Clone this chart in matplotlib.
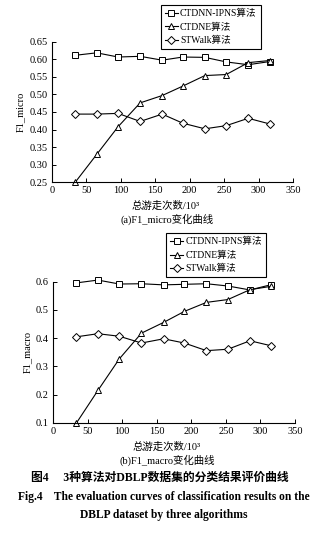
import matplotlib
matplotlib.use('Agg')
from matplotlib import pyplot as plt

# 数据
walks = [34, 65, 96, 128, 160, 190, 222, 253, 285, 316]
labels = ['CTDNN-IPNS算法', 'CTDNE算法', 'STWalk算法']

micro_ipns = [0.612, 0.619, 0.607, 0.609, 0.598, 0.607, 0.606, 0.593, 0.585, 0.594]
micro_ctdne = [0.250, 0.329, 0.408, 0.476, 0.497, 0.524, 0.554, 0.557, 0.591, 0.597]
micro_stwalk = [0.444, 0.444, 0.446, 0.423, 0.444, 0.418, 0.402, 0.411, 0.432, 0.416]

macro_ipns = [0.596, 0.606, 0.592, 0.593, 0.589, 0.591, 0.593, 0.585, 0.571, 0.590]
macro_ctdne = [0.100, 0.215, 0.327, 0.418, 0.456, 0.495, 0.527, 0.537, 0.572, 0.584]
macro_stwalk = [0.405, 0.416, 0.407, 0.383, 0.398, 0.383, 0.356, 0.361, 0.391, 0.373]

plt.rcParams['font.family'] = ['Liberation Serif', 'Noto Sans CJK SC']
plt.rcParams['font.size'] = 7.5

markers = ['s', '^', 'D']
msizes = [4.5, 5, 3.6]

fig = plt.figure(figsize=(3.27, 5.45), dpi=100)


def draw_panel(ax, series, ylim, yticks, yfmt, ylabel, legend_anchor):
    for vals, m, ms, lab in zip(series, markers, msizes, labels):
        ax.plot(walks, vals, color='black', lw=0.8, marker=m, ms=ms,
                mfc='white', mec='black', mew=0.7, label=lab, clip_on=False)
    ax.set_xlim(0, 350)
    ax.set_ylim(*ylim)
    ax.set_xticks(range(0, 351, 50))
    ax.set_yticks(yticks)
    ax.set_yticklabels([yfmt.format(v) for v in yticks])
    ax.spines['top'].set_visible(False)
    ax.spines['right'].set_visible(False)
    ax.spines['left'].set_linewidth(0.8)
    ax.spines['bottom'].set_linewidth(0.8)
    ax.tick_params(direction='in', length=3, width=0.7, labelsize=7.5, pad=3)
    ax.set_ylabel(ylabel, fontsize=7.5, labelpad=3)
    ax.set_xlabel('总游走次数/10³', fontsize=7.5, labelpad=2)
    ax.xaxis.set_label_coords(0.47, -0.13)
    leg = ax.legend(loc='upper left', bbox_to_anchor=legend_anchor,
                    bbox_transform=fig.transFigure, fancybox=False,
                    edgecolor='black', framealpha=1, fontsize=6.9,
                    handlelength=1.4, handletextpad=0.2, borderpad=0.4,
                    labelspacing=0.45, borderaxespad=0)
    leg.get_frame().set_linewidth(0.8)


ax1 = fig.add_axes([0.159, 0.666, 0.737, 0.257])
draw_panel(ax1, [micro_ipns, micro_ctdne, micro_stwalk], (0.25, 0.65),
           [0.25, 0.30, 0.35, 0.40, 0.45, 0.50, 0.55, 0.60, 0.65], '{:.2f}',
           'F1_micro', (0.492, 0.991))
fig.text(0.512, 1 - 219 / 545, '(a)F1_micro变化曲线', ha='center', va='center', fontsize=7.5)

ax2 = fig.add_axes([0.162, 0.224, 0.740, 0.259])
draw_panel(ax2, [macro_ipns, macro_ctdne, macro_stwalk], (0.1, 0.6),
           [0.1, 0.2, 0.3, 0.4, 0.5, 0.6], '{:.1f}',
           'F1_macro', (0.508, 0.572))
fig.text(0.51, 1 - 460 / 545, '(b)F1_macro变化曲线', ha='center', va='center', fontsize=7.5)

# 图题
fig.text(0.49, 1 - 478 / 545, '图4　 3种算法对DBLP数据集的分类结果评价曲线',
         ha='center', va='center', fontsize=8.5, fontweight='bold')
fig.text(0.5, 1 - 497 / 545, 'Fig.4    The evaluation curves of classification results on the',
         ha='center', va='center', fontsize=8.3, fontweight='bold')
fig.text(0.5, 1 - 515 / 545, 'DBLP dataset by three algorithms',
         ha='center', va='center', fontsize=8.3, fontweight='bold')

fig.savefig('out.png', dpi=100)
